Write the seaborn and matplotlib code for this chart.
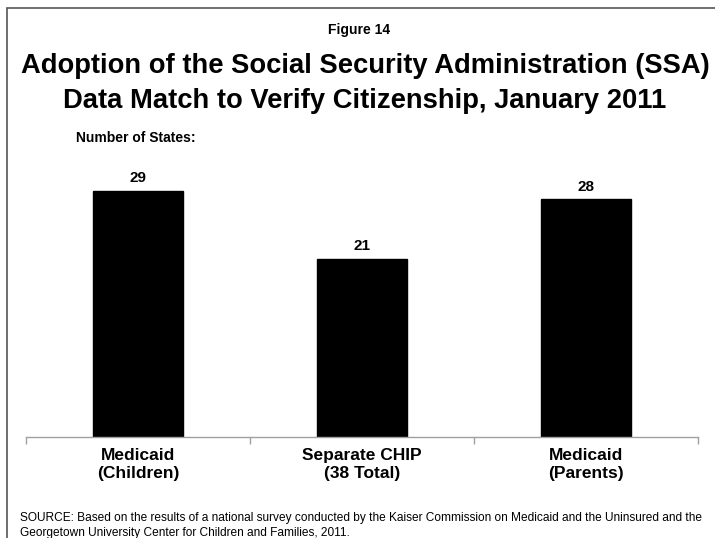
import matplotlib
matplotlib.use("Agg")
import matplotlib.pyplot as plt
import seaborn as sns
import pandas as pd
from matplotlib.patches import Rectangle

categories = ["Medicaid\n(Children)", "Separate CHIP\n(38 Total)", "Medicaid\n(Parents)"]
values = [29, 21, 28]

sns.set_theme(style="white")
plt.rcParams['font.family'] = ['Liberation Sans', 'DejaVu Sans']
plt.rcParams['text.color'] = 'black'
plt.rcParams['xtick.color'] = 'black'

df = pd.DataFrame({"cat": categories, "val": values})

fig = plt.figure(figsize=(7.15, 5.38), dpi=100)
ax = fig.add_axes([26/715, 1 - 437/538, (698 - 26)/715, (437 - 182)/538])

sns.barplot(data=df, x="cat", y="val", color="black", width=0.4, ax=ax,
            saturation=1, edgecolor="black")
ax.set_ylim(0, 30)
ax.set_xlim(-0.5, 2.5)
for i, v in enumerate(values):
    ax.text(i, v + 0.6, str(v), ha="center", va="bottom", fontsize=11,
            fontweight="bold", clip_on=False, color="black")

for s in ["top", "right", "left"]:
    ax.spines[s].set_visible(False)
ax.spines["bottom"].set_color("#a0a0a0")
ax.spines["bottom"].set_linewidth(1)
ax.set_yticks([])
ax.set_xlabel("")
ax.set_ylabel("")
ax.tick_params(axis="x", which="major", length=0, pad=8, labelsize=12.5, labelcolor="black")
for lab in ax.get_xticklabels():
    lab.set_fontweight("bold")
ax.set_xticks([-0.5, 0.5, 1.5, 2.5], minor=True)
ax.tick_params(axis="x", which="minor", length=5, color="#a0a0a0", width=1, direction="out", bottom=True)

fig.text(359/715, 1 - 30/538, "Figure 14", ha="center", va="center", fontsize=10, fontweight="bold")
fig.text(365/715, 1 - 66/538, "Adoption of the Social Security Administration (SSA)",
         ha="center", va="center", fontsize=19.7, fontweight="bold")
fig.text(365/715, 1 - 101/538, "Data Match to Verify Citizenship, January 2011",
         ha="center", va="center", fontsize=19.7, fontweight="bold")
fig.text(76/715, 1 - 138/538, "Number of States:", ha="left", va="center", fontsize=10, fontweight="bold")
fig.text(20/715, 1 - 518/538,
         "SOURCE: Based on the results of a national survey conducted by the Kaiser Commission on Medicaid and the Uninsured and the",
         ha="left", va="center", fontsize=8.6)
fig.text(20/715, 1 - 533/538,
         "Georgetown University Center for Children and Families, 2011.",
         ha="left", va="center", fontsize=8.6)

fig.patches.append(Rectangle((7/715, -0.1), 1.2, 1 - 8/538 + 0.1, transform=fig.transFigure,
                             fill=False, edgecolor="#555555", linewidth=1.2))

fig.savefig("out.png", dpi=100)
